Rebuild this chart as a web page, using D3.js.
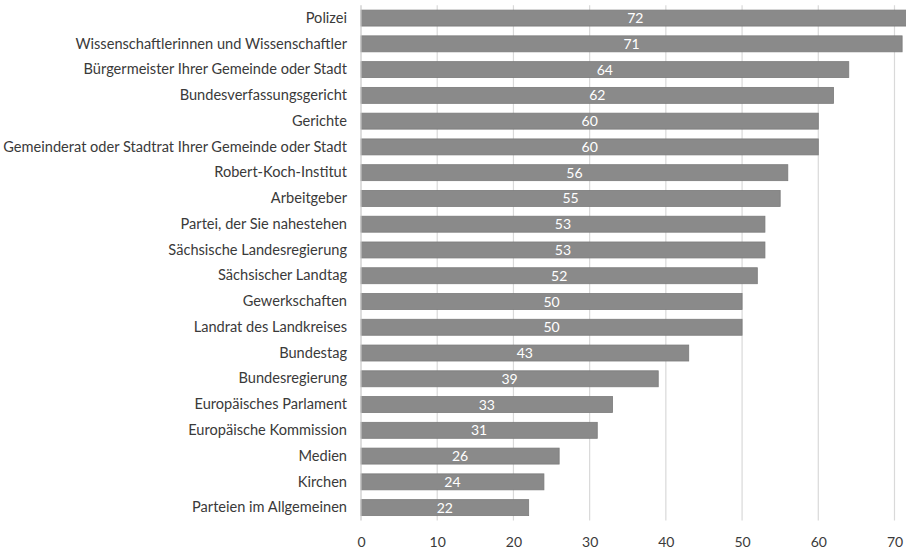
<!DOCTYPE html>
<html>
<head>
<meta charset="utf-8">
<script src="https://cdn.jsdelivr.net/npm/d3@7"></script>
<style>
  html, body { margin: 0; padding: 0; background: #ffffff; }
  svg { display: block; }
</style>
</head>
<body>
<svg id="chart" width="906" height="549"></svg>
<script>
// Vertrauen in Institutionen (Anteil in %)
const categories = [
  "Polizei",
  "Wissenschaftlerinnen und Wissenschaftler",
  "Bürgermeister Ihrer Gemeinde oder Stadt",
  "Bundesverfassungsgericht",
  "Gerichte",
  "Gemeinderat oder Stadtrat Ihrer Gemeinde oder Stadt",
  "Robert-Koch-Institut",
  "Arbeitgeber",
  "Partei, der Sie nahestehen",
  "Sächsische Landesregierung",
  "Sächsischer Landtag",
  "Gewerkschaften",
  "Landrat des Landkreises",
  "Bundestag",
  "Bundesregierung",
  "Europäisches Parlament",
  "Europäische Kommission",
  "Medien",
  "Kirchen",
  "Parteien im Allgemeinen"
];
const values = [72, 71, 64, 62, 60, 60, 56, 55, 53, 53, 52, 50, 50, 43, 39, 33, 31, 26, 24, 22];
const xTicks = [0, 10, 20, 30, 40, 50, 60, 70];

const data = categories.map((c, i) => ({ name: c, value: values[i] }));

const svg = d3.select("#chart");
const plotLeft = 361, plotRight = 894.5, plotTop = 5.2, plotBottom = 520.5;

const x = d3.scaleLinear().domain([0, 70]).range([plotLeft, plotRight]);
const y = d3.scaleBand().domain(categories).range([plotTop, plotBottom]).paddingInner(0.38).paddingOuter(0.19);

const font = "Lato, 'Open Sans', sans-serif";
const textColor = "#3a3a3a";

// vertical gridlines
svg.append("g")
  .selectAll("line")
  .data(xTicks.filter(t => t > 0))
  .join("line")
  .attr("x1", d => x(d)).attr("x2", d => x(d))
  .attr("y1", plotTop).attr("y2", plotBottom)
  .attr("stroke", "#d9d9d9").attr("stroke-width", 1.2);

// bars
svg.append("g")
  .selectAll("rect")
  .data(data)
  .join("rect")
  .attr("x", x(0))
  .attr("y", d => y(d.name))
  .attr("width", d => x(d.value) - x(0))
  .attr("height", y.bandwidth())
  .attr("fill", "#8a8a8a")
  .attr("stroke", "#7b7b7b")
  .attr("stroke-width", 0.8);

// category axis line
svg.append("line")
  .attr("x1", x(0)).attr("x2", x(0))
  .attr("y1", plotTop).attr("y2", plotBottom)
  .attr("stroke", "#c8c8c8").attr("stroke-width", 1.2);

// value labels inside bars
svg.append("g")
  .selectAll("text")
  .data(data)
  .join("text")
  .attr("x", d => (x(0) + x(d.value)) / 2)
  .attr("y", d => y(d.name) + y.bandwidth() / 2)
  .attr("dy", "0.36em")
  .attr("text-anchor", "middle")
  .attr("font-family", font)
  .attr("font-size", 14)
  .attr("fill", "#ffffff")
  .text(d => d.value);

// category labels
const yAxis = d3.axisLeft(y).tickSize(0).tickPadding(14);
const gy = svg.append("g").attr("transform", `translate(${x(0)},0)`).call(yAxis);
gy.select(".domain").remove();
gy.selectAll("text")
  .attr("font-family", font)
  .attr("font-size", 14.6)
  .attr("fill", textColor);

// value axis
const xAxis = d3.axisBottom(x).tickValues(xTicks).tickSize(0).tickPadding(17);
const gx = svg.append("g").attr("transform", `translate(0,${plotBottom})`).call(xAxis);
gx.select(".domain").remove();
gx.selectAll("text")
  .attr("font-family", font)
  .attr("font-size", 14)
  .attr("fill", textColor);
</script>
</body>
</html>
